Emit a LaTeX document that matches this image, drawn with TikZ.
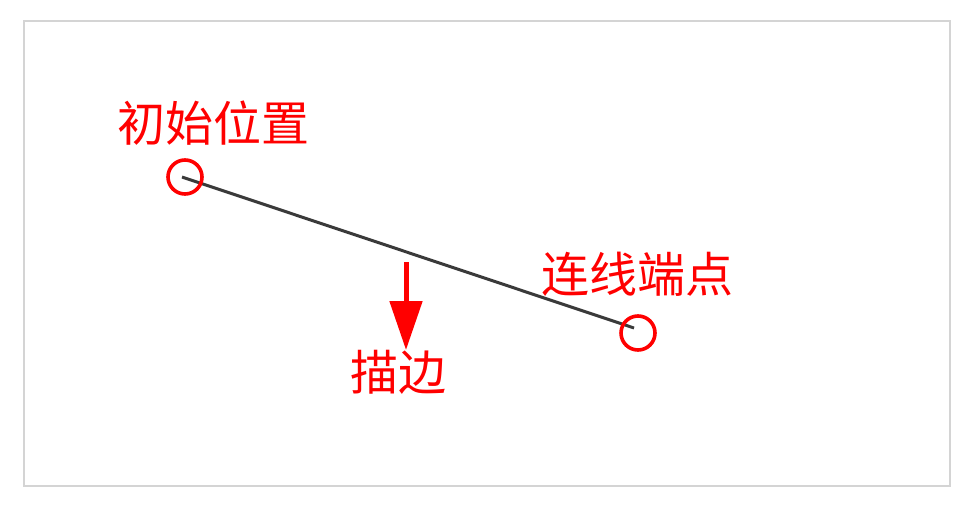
\documentclass[tikz,border=0pt]{standalone}
\usepackage{fontspec}
\newfontfamily\cjk{Noto Sans CJK SC}
\usetikzlibrary{arrows.meta}
\definecolor{framegray}{HTML}{D4D4D4}
\definecolor{linegray}{HTML}{3A3A3A}
\tikzset{
  lbl/.style={text=red, font=\cjk\fontsize{48}{52}\selectfont, inner sep=0pt},
  ringmark/.style={draw=red, line width=3.6pt, circle, minimum size=34pt, inner sep=0pt},
}
\begin{document}
\begin{tikzpicture}[x=1pt,y=-1pt]
\useasboundingbox (0,0) rectangle (979,514);
\fill[white] (0,0) rectangle (979,514);
\draw[framegray, line width=2.6pt] (24,21) rectangle (950,486);
\coordinate (p1) at (182,177);
\coordinate (p2) at (634,328);
\draw[linegray, line width=3pt] (p1) -- (p2);
\node[ringmark] (c1) at (185,177) {};
\node[ringmark] (c2) at (638,333) {};
\node[lbl] (t1) at (213,123) {初始位置};
\node[lbl] (t2) at (637,274) {连线端点};
\node[lbl] (t3) at (398,372) {描边};
\coordinate (a1) at (406,262);
\coordinate (a2) at (406,350);
\draw[red, line width=5pt, -{Triangle[width=32pt,length=49pt]}] (a1) -- (a2);
\end{tikzpicture}
\end{document}
